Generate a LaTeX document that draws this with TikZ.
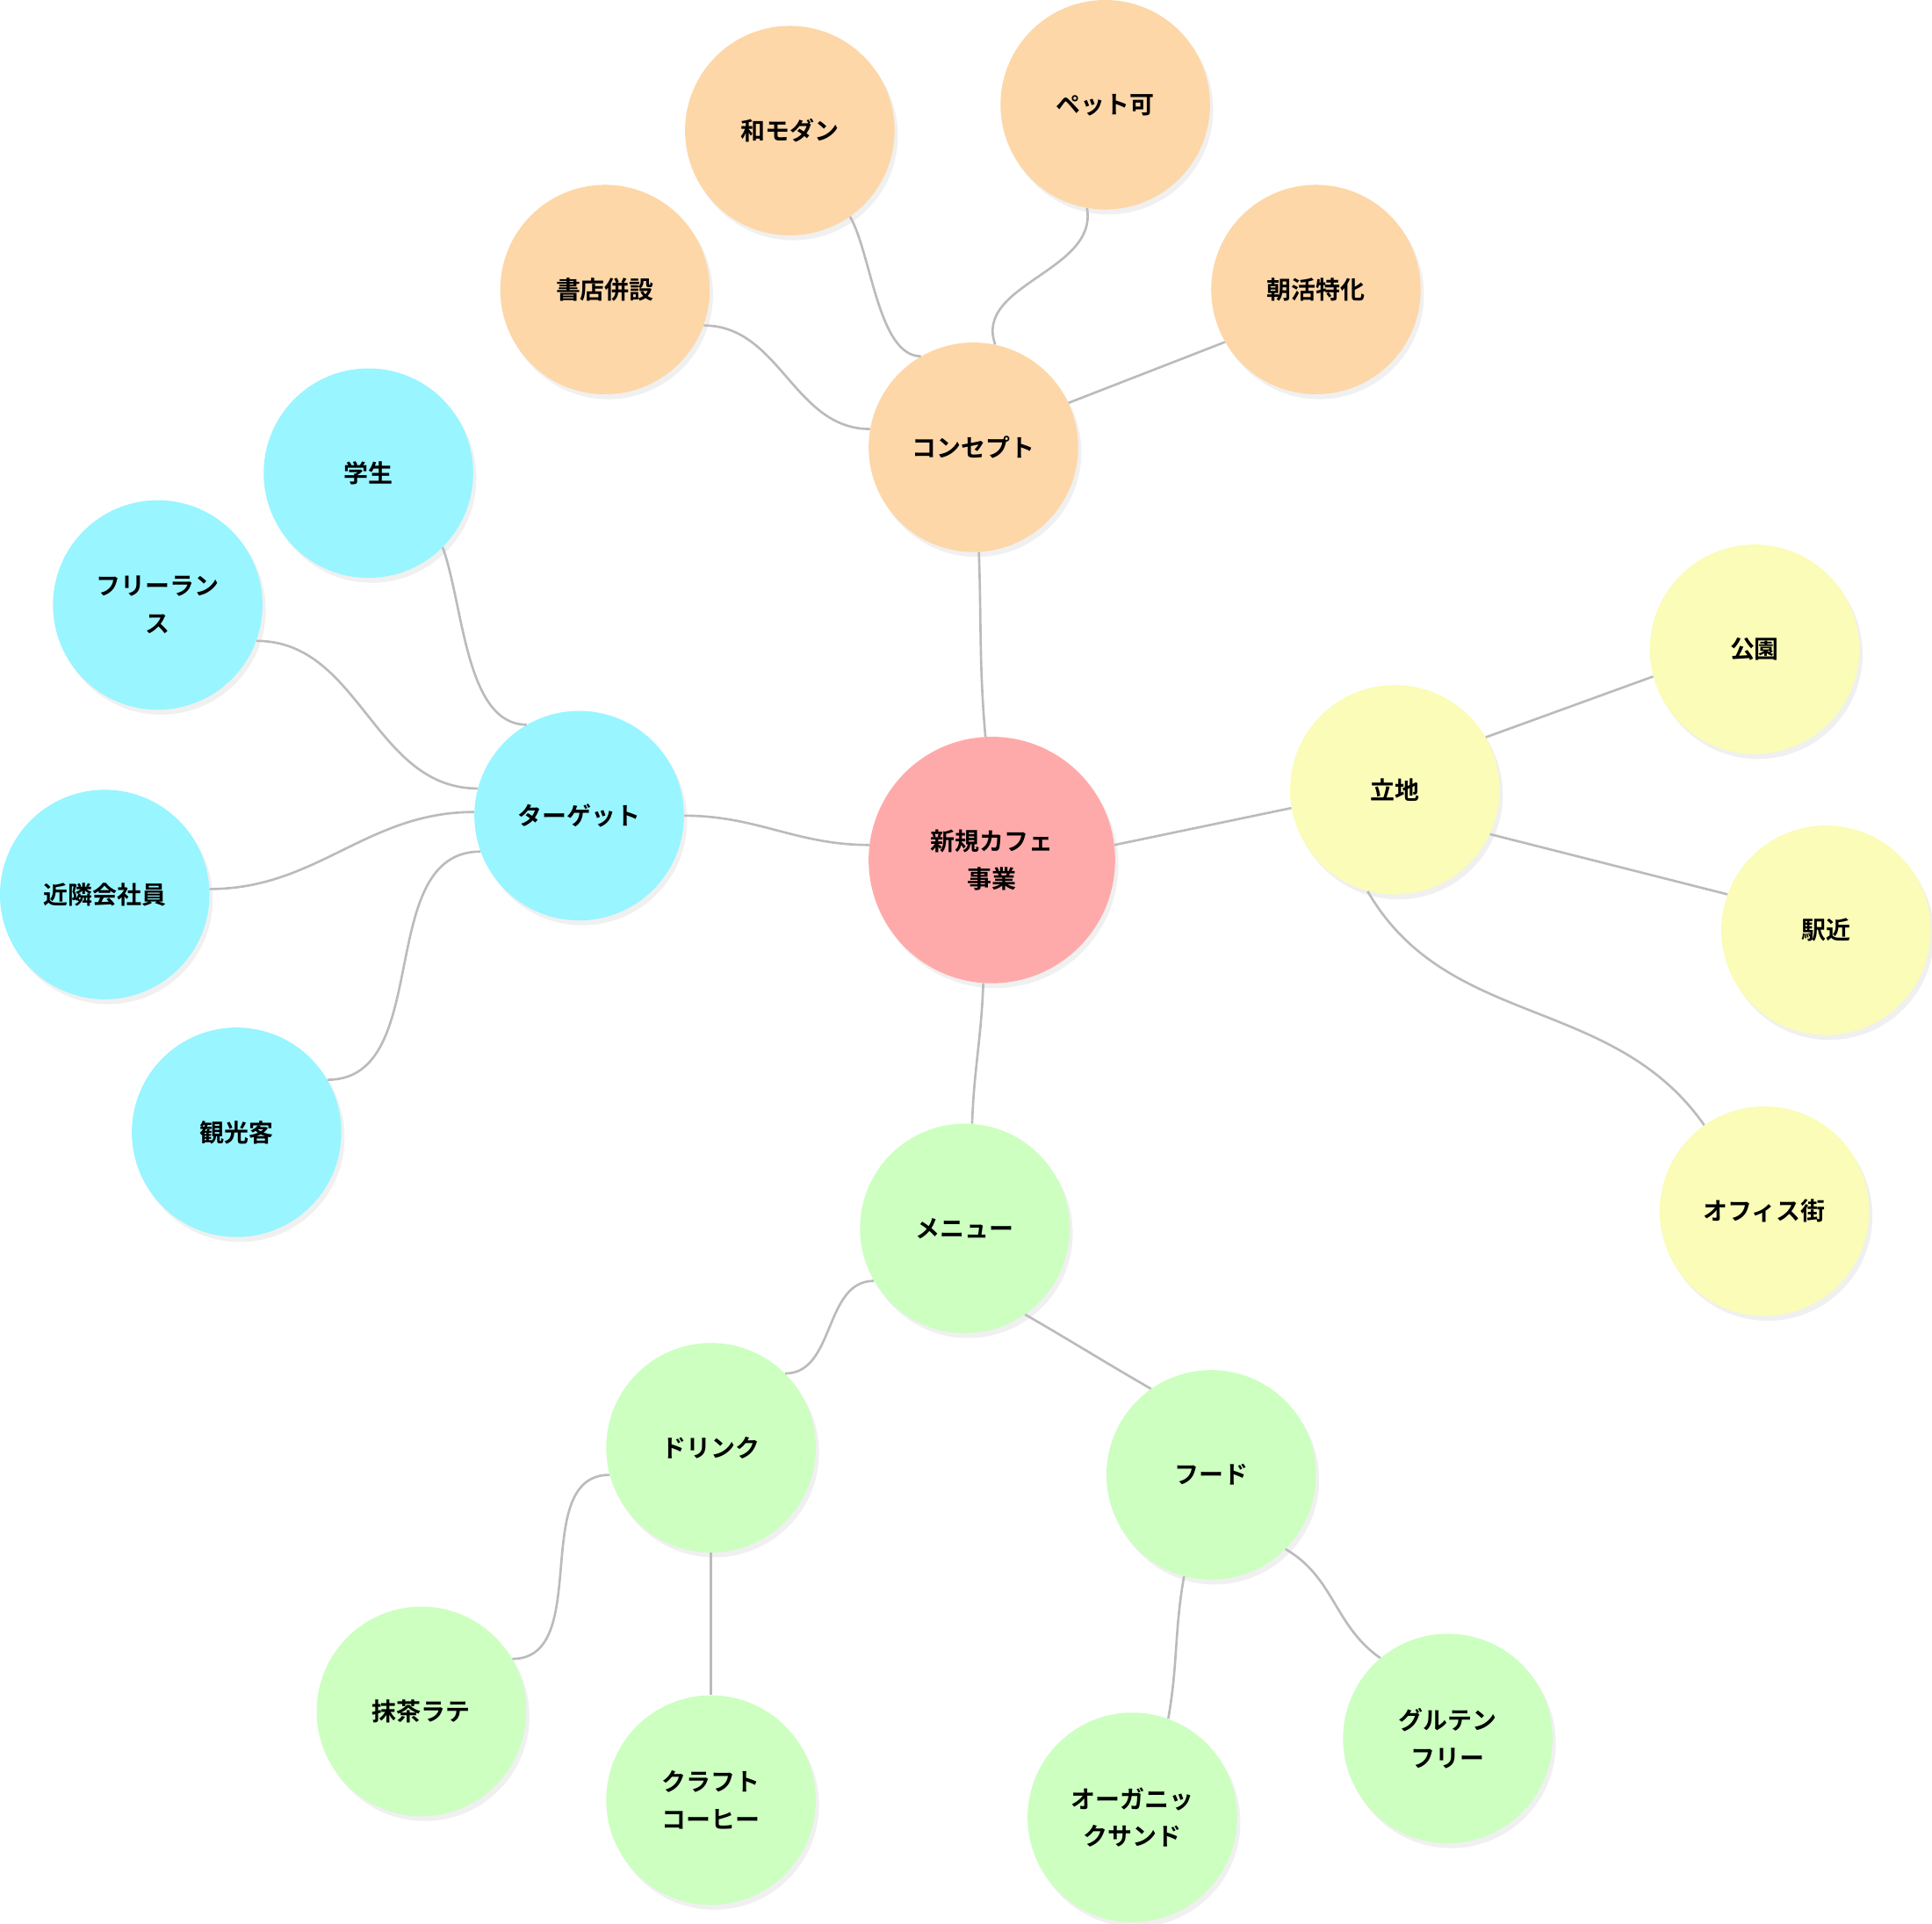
\documentclass[tikz,border=0pt]{standalone}
\usepackage{fontspec}
\setmainfont{Noto Sans CJK JP}[BoldFont={Noto Sans CJK JP Bold}]
\usetikzlibrary{shadows}
\definecolor{cpink}{HTML}{FFAAAA}
\definecolor{corange}{HTML}{FDD7A8}
\definecolor{ccyan}{HTML}{99F5FF}
\definecolor{cyellow}{HTML}{FAFCB8}
\definecolor{cgreen}{HTML}{CCFFC0}
\definecolor{cedge}{HTML}{BBBBBB}
\begin{document}
\begin{tikzpicture}[x=0.03cm,y=-0.03cm,
  bub/.style={circle,minimum size=5.1cm,inner sep=0pt,align=center,
    font=\fontsize{17}{26}\selectfont\bfseries,
    drop shadow={opacity=0.12,shadow xshift=0.08cm,shadow yshift=-0.12cm}},
  root/.style={bub,fill=cpink,minimum size=6cm},
  con/.style={bub,fill=corange},
  tar/.style={bub,fill=ccyan},
  loc/.style={bub,fill=cyellow},
  men/.style={bub,fill=cgreen},
  e/.style={draw=cedge,line width=1.6pt}]
\useasboundingbox (0,0) rectangle (1568,1561);
\node[root] (c) at (805,698) {新規カフェ\\事業};
\node[con] (k) at (790,363) {コンセプト};
\node[con] (k1) at (491,235) {書店併設};
\node[con] (k2) at (641,106) {和モダン};
\node[con] (k3) at (897,85) {ペット可};
\node[con] (k4) at (1068,235) {朝活特化};
\node[tar] (t) at (470,662) {ターゲット};
\node[tar] (t1) at (299,384) {学生};
\node[tar] (t2) at (128,491) {フリーラン\\ス};
\node[tar] (t3) at (85,726) {近隣会社員};
\node[tar] (t4) at (192,919) {観光客};
\node[loc] (r) at (1132,641) {立地};
\node[loc] (r1) at (1424,527) {公園};
\node[loc] (r2) at (1482,755) {駅近};
\node[loc] (r3) at (1432,983) {オフィス街};
\node[men] (m) at (783,997) {メニュー};
\node[men] (d) at (577,1175) {ドリンク};
\node[men] (f) at (983,1197) {フード};
\node[men] (d1) at (342,1389) {抹茶ラテ};
\node[men] (d2) at (577,1461) {クラフト\\コーヒー};
\node[men] (f1) at (919,1475) {オーガニッ\\クサンド};
\node[men] (f2) at (1175,1411) {グルテン\\フリー};
\begin{scope}[on background layer/.style={}]
\draw[e] (c.93) to[out=95,in=-88] (k.-87);
\draw[e] (c.173) to[out=180,in=0] (t.0);
\draw[e] (c.7) to (r.190);
\draw[e] (c.-94) to[out=-92,in=88] (m.86);
\draw[e] (k.170) to[out=180,in=0] (k1.-20);
\draw[e] (k.120) to[out=180,in=-60,looseness=0.7] (k2.-55);
\draw[e] (k.78) to[out=110,in=-80] (k3.-100);
\draw[e] (k.25) to (k4.-150);
\draw[e] (t.120) to[out=180,in=-70,looseness=0.8] (t1.-45);
\draw[e] (t.165) to[out=180,in=0] (t2.-20);
\draw[e] (t.178) to[out=180,in=0] (t3.3);
\draw[e] (t.200) to[out=180,in=0] (t4.30);
\draw[e] (r.30) to (r1.-165);
\draw[e] (r.-25) to (r2.160);
\draw[e] (r.-105) to[out=-60,in=125] (r3.125);
\draw[e] (m.-150) to[out=180,in=0] (d.45);
\draw[e] (m.-55) to[out=-30,in=150] (f.125);
\draw[e] (d.-165) to[out=180,in=0] (d1.30);
\draw[e] (d.-90) -- (d2.90);
\draw[e] (f.-105) to[out=-100,in=80] (f1.70);
\draw[e] (f.-45) to[out=-30,in=145] (f2.130);
\end{scope}
\end{tikzpicture}
\end{document}
